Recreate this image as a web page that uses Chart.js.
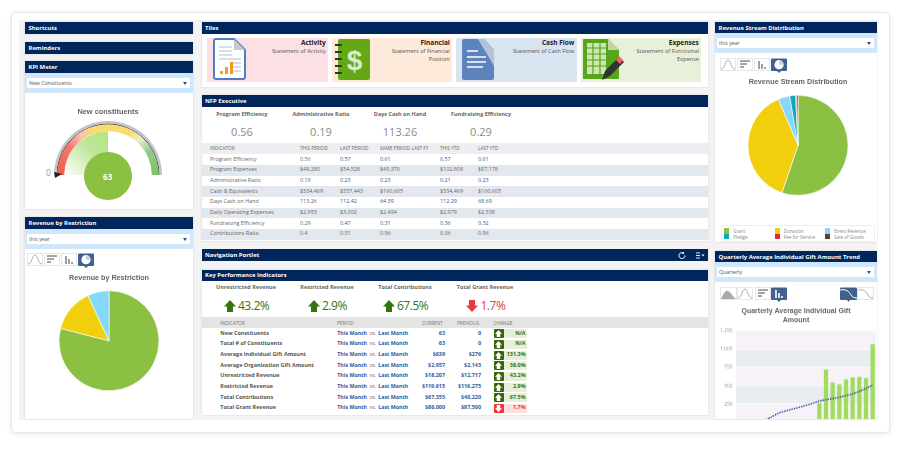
<!DOCTYPE html>
<html>
<head>
<meta charset="utf-8">
<title>Dashboard</title>
<script src="https://cdn.jsdelivr.net/npm/chart.js@4"></script>
<style>
  html, body { margin: 0; padding: 0; background: #fff; }
  #stage { position: relative; width: 907px; height: 454px; overflow: hidden; font-family: "Open Sans", sans-serif; color: #666; }
  #frame { position: absolute; left: 11px; top: 12px; width: 877px; height: 419px; background: #fff; border: 1px solid #e8e8e8; border-radius: 5px; box-shadow: 0 1px 5px rgba(0,0,0,.1); }
  #gutter { position: absolute; left: 19px; top: 20px; width: 858px; height: 400px; background: #f3f3f3; }
  .box { position: absolute; box-sizing: border-box; }
  .panel { background: #fff; box-shadow: 0 0 2px rgba(0,0,0,.14); }
  .head { background: #00265c; color: #fff; font-weight: 700; font-size: 5.9px; padding-left: 3.5px; display: flex; align-items: center; }
  .band { background: #cfe6fb; }
  .select { background: #fff; font-size: 5.2px; color: #555; padding-left: 2px; display: flex; align-items: center; }
  .select::after { content: ''; position: absolute; right: 3px; top: 4px; border: 2.2px solid transparent; border-top: 3px solid #2c5285; }
  .t { position: absolute; white-space: nowrap; line-height: 1; }
  canvas { position: absolute; }
  svg { position: absolute; }
</style>
</head>
<body>
<div id="stage">
  <div id="frame"></div>
  <div id="gutter"></div>
</div>
<script>
const stage = document.getElementById('stage');

const NAVY_TEXT = '#2a5ba0';
const GREEN = '#357410';
const RED = '#e8383a';

const nfpStats = [
  { label: 'Program Efficiency', value: '0.56', x: 242 },
  { label: 'Administrative Ratio', value: '0.19', x: 321 },
  { label: 'Days Cash on Hand', value: '113.26', x: 400 },
  { label: 'Fundraising Efficiency', value: '0.29', x: 481 }
];

const nfpColumns = [
  { label: 'INDICATOR', x: 210 },
  { label: 'THIS PERIOD', x: 300 },
  { label: 'LAST PERIOD', x: 340 },
  { label: 'SAME PERIOD LAST FY', x: 380 },
  { label: 'THIS YTD', x: 440 },
  { label: 'LAST YTD', x: 478 }
];

const nfpRows = [
  ['Program Efficiency', '0.56', '0.57', '0.61', '0.57', '0.61'],
  ['Program Expenses', '$48,280', '$54,528', '$45,370', '$102,808', '$87,178'],
  ['Administrative Ratio', '0.19', '0.23', '0.23', '0.21', '0.23'],
  ['Cash & Equivalents', '$334,469', '$337,443', '$160,605', '$334,469', '$160,605'],
  ['Days Cash on Hand', '113.26', '112.42', '64.39', '112.29', '68.69'],
  ['Daily Operating Expenses', '$2,953', '$3,002', '$2,494', '$2,979', '$2,338'],
  ['Fundraising Efficiency', '0.29', '0.47', '0.31', '0.36', '0.32'],
  ['Contributions Ratio', '0.4', '0.31', '0.96', '0.36', '0.96']
];

const kpiStats = [
  { label: 'Unrestricted Revenue', value: '43.2%', up: true, lx: 246, ax: 229.5, vx: 238 },
  { label: 'Restricted Revenue', value: '2.9%', up: true, lx: 327, ax: 313.5, vx: 322 },
  { label: 'Total Contributions', value: '67.5%', up: true, lx: 405, ax: 389, vx: 397 },
  { label: 'Total Grant Revenue', value: '1.7%', up: false, lx: 485, ax: 472, vx: 480.5 }
];

const kpiRows = [
  ['New Constituents', '63', '0', 'N/A', true],
  ['Total # of Constituents', '63', '0', 'N/A', true],
  ['Average Individual Gift Amount', '$639', '$276', '131.3%', true],
  ['Average Organization Gift Amount', '$2,957', '$2,143', '38.0%', true],
  ['Unrestricted Revenue', '$18,207', '$12,717', '43.2%', true],
  ['Restricted Revenue', '$119,615', '$116,275', '2.9%', true],
  ['Total Contributions', '$67,355', '$40,220', '67.5%', true],
  ['Total Grant Revenue', '$86,000', '$87,500', '1.7%', false]
];

const restriction = { labels: ['Unrestricted', 'Temporarily Restricted', 'Permanently Restricted'], values: [79, 14.1, 6.9], colors: ['#8bc043', '#f2cf0c', '#85d7fb'] };

const streams = {
  labels: ['Grant', 'Donation', 'Event Revenue', 'Pledge', 'Fee for Service', 'Sale of Goods'],
  values: [55.2, 38.4, 3.75, 1.9, 0.3, 0.45],
  colors: ['#8bc043', '#f2cf0c', '#85d7fb', '#12a5bd', '#e0282e', '#5a4038']
};
// legend is laid out by column, not in slice order
const legendOrder = [
  { i: 0, x: 724, y: 231 }, { i: 1, x: 774.5, y: 231 }, { i: 2, x: 825, y: 231 },
  { i: 3, x: 724, y: 236.5 }, { i: 4, x: 774.5, y: 236.5 }, { i: 5, x: 825, y: 236.5 }
];

const quarters = ['Q1','Q2','Q3','Q4','Q5','Q6','Q7','Q8','Q9','Q10','Q11','Q12','Q13','Q14','Q15','Q16','Q17','Q18','Q19','Q20','Q21'];
const giftBars = [null,null,null,null,null,null,null,null,null,null,null,null,262,718,543,518,585,611,620,603,1066];
const giftTrend = [null,null,null,null,40,85,135,160,185,210,235,262,295,312,328,345,368,392,425,465,514];

function box(x, y, w, h, cls, parent) {
  const d = document.createElement('div');
  d.className = 'box ' + (cls || '');
  d.style.left = x + 'px';
  d.style.top = y + 'px';
  d.style.width = w + 'px';
  d.style.height = h + 'px';
  (parent || stage).appendChild(d);
  return d;
}

// y is the vertical middle of the text; align l, c or r around x
function text(x, y, str, size, color, opts) {
  opts = opts || {};
  const s = document.createElement('span');
  s.className = 't';
  s.textContent = str;
  s.style.left = x + 'px';
  s.style.top = y + 'px';
  s.style.fontSize = size + 'px';
  s.style.color = color;
  if (opts.bold) s.style.fontWeight = 700;
  if (opts.spacing) s.style.letterSpacing = opts.spacing + 'px';
  const tx = opts.align === 'r' ? '-100%' : opts.align === 'c' ? '-50%' : '0';
  s.style.transform = `translate(${tx}, -50%)`;
  stage.appendChild(s);
  return s;
}

function header(x, y, w, h, label) {
  box(x, y, w, h, 'head').textContent = label;
}

function selectBar(x, y, w, label) {
  box(x, y, w, 20, 'band');
  box(x + 2, y + 5, w - 5, 10, 'select').textContent = label;
}

function svg(x, y, w, h, inner) {
  const holder = document.createElement('div');
  holder.innerHTML = `<svg xmlns="http://www.w3.org/2000/svg" style="left:${x}px;top:${y}px" width="${w}" height="${h}" viewBox="0 0 ${w} ${h}">${inner}</svg>`;
  stage.appendChild(holder.firstChild);
}

const ICON_BG = '<rect x="0.5" y="0.5" width="15" height="12" fill="#fff" stroke="#e6e6e6"/>';
const iconCurve = ICON_BG + '<path d="M1 11 C5 11 5 2 8 2 C11 2 11 11 15 11" fill="none" stroke="#999" stroke-width=".8"/>';
const iconRows = ICON_BG + '<path d="M3 3h10M3 6h7M3 9h4" stroke="#888" stroke-width="1.4"/>';
const iconCols = ICON_BG + '<path d="M5 11V3M8 11V6M11 11V9" stroke="#888" stroke-width="1.6"/>';
const iconPie = '<path d="M0 1.5a1 1 0 0 1 1-1h14a1 1 0 0 1 1 1V12a1 1 0 0 1-1 1H10L8 15 6 13H1a1 1 0 0 1-1-1z" fill="#43618e"/><circle cx="8" cy="6.7" r="4.6" fill="#fff"/><path d="M8 6.7V2.1A4.6 4.6 0 0 1 12.6 6.7z" fill="#c7d2e2"/>';

function toolbar(x, y) {
  svg(x, y, 16, 16, iconCurve);
  svg(x + 17, y, 16, 16, iconRows);
  svg(x + 34, y, 16, 16, iconCols);
  svg(x + 50.7, y, 16, 16, iconPie);
}

function drawLayout() {
  // left column
  box(25, 22, 168, 11.5, 'panel head').textContent = 'Shortcuts';
  box(25, 41.5, 168, 12, 'panel head').textContent = 'Reminders';
  box(25, 61, 168, 148, 'panel');
  header(25, 61, 168, 12, 'KPI Meter');
  selectBar(25, 73, 168, 'New Constituents');
  text(46, 173, '0', 8.5, '#999');

  box(25, 217, 168, 202, 'panel');
  header(25, 217, 168, 12, 'Revenue by Restriction');
  selectBar(25, 229, 168, 'this year');
  toolbar(27, 253);

  // middle column
  box(201.5, 22, 506, 65, 'panel');
  header(201.5, 22, 506, 11.5, 'Tiles');
  drawTiles();

  box(201.5, 95, 506, 146, 'panel');
  header(201.5, 95, 506, 12, 'NFP Executive');
  nfpStats.forEach(s => {
    text(s.x, 114.5, s.label, 5.5, '#666', { align: 'c', bold: true });
    text(s.x, 131, s.value, 11, '#8a8a8a', { align: 'c' });
  });
  renderNfpTable();

  header(201.5, 249, 506, 12, 'Navigation Portlet');
  svg(677, 251, 30, 9, '<path d="M8 4.5a3 3 0 1 1-1-2.2" fill="none" stroke="#fff" stroke-width="1"/><path d="M7 0.7v2.2h-2.2z" fill="#fff"/><path d="M19 2h4M19 4.5h4M19 7h4" stroke="#fff" stroke-width=".9"/><path d="M24.5 3.5h3l-1.5 2z" fill="#fff"/>');

  box(201.5, 269.5, 506, 145, 'panel');
  header(201.5, 269.5, 506, 11.5, 'Key Performance Indicators');
  renderKpis();

  // right column
  box(715, 22, 162, 220, 'panel');
  header(715, 22, 162, 11.5, 'Revenue Stream Distribution');
  selectBar(715, 33, 162, 'this year');
  toolbar(720, 58);
  renderLegend();

  box(715, 251, 162, 168, 'panel');
  header(715, 251, 162, 11.5, 'Quarterly Average Individual Gift Amount Trend');
  selectBar(715, 262, 162, 'Quarterly');
  svg(720, 287, 17, 13, '<rect x=".5" y=".5" width="16" height="12" fill="#fff" stroke="#e6e6e6"/><path d="M1 12 C4 5 6 3 8 4 C11 5 12 9 16 12z" fill="#aaa"/>');
  svg(737, 287, 17, 13, iconCurve);
  svg(755, 287, 16, 15, iconRows);
  svg(770.5, 287, 16, 16, '<path d="M0 1.5a1 1 0 0 1 1-1h14a1 1 0 0 1 1 1V12a1 1 0 0 1-1 1H10L8 15 6 13H1a1 1 0 0 1-1-1z" fill="#43618e"/><path d="M5 11V3M8 11V6M11 11V9" stroke="#fff" stroke-width="1.6"/>');
  svg(840, 287, 17, 16, '<path d="M0 1.5a1 1 0 0 1 1-1h15a1 1 0 0 1 1 1V12a1 1 0 0 1-1 1H10L8.5 15 7 13H1a1 1 0 0 1-1-1z" fill="#43618e"/><path d="M0 3 C6 2 9 4 11 8 C12 10 14 11 17 11" fill="none" stroke="#fff" stroke-width="1"/>');
  svg(857, 287, 17, 13, '<rect x=".5" y=".5" width="16" height="12" fill="#fff" stroke="#e6e6e6"/><path d="M1 3 C6 2 9 4 11 8 C12 10 14 11 16 11" fill="none" stroke="#aaa" stroke-width="1"/>');
}

function drawTiles() {
  const tiles = [
    { x: 207, w: 121, bg: '#fde0e4', title: 'Activity', sub: ['Statement of Activity'] },
    { x: 332, w: 120, bg: '#fdeadb', title: 'Financial', sub: ['Statement of Financial', 'Position'] },
    { x: 456, w: 120.5, bg: '#d9e4f1', title: 'Cash Flow', sub: ['Statement of Cash Flow'] },
    { x: 581, w: 120, bg: '#e7f1d9', title: 'Expenses', sub: ['Statement of Functional', 'Expense'] }
  ];
  tiles.forEach(t => {
    box(t.x, 37.5, t.w, 44, '').style.background = t.bg;
    const right = t.x + t.w - 2.2;
    text(right, 43, t.title, 6.5, '#222', { align: 'r', bold: true });
    t.sub.forEach((line, i) => text(right, 51.7 + i * 8, line, 5.6, '#555', { align: 'r' }));
  });

  svg(213, 38, 36, 43, '<path d="M3 1h18l11 11v27a2 2 0 0 1-2 2H3a2 2 0 0 1-2-2V3a2 2 0 0 1 2-2z" fill="#fff" stroke="#4f80bd" stroke-width="2"/><path d="M21 1v11h11z" fill="#c9c9c9"/><path d="M6 9h13M6 13h13M6 17h13M6 21h22M20 25h8M20 29h8M20 33h8" stroke="#a9c1de" stroke-width="1.2"/><path d="M7 36v-3h3v3zM12 36v-7h3v7zM17 36V24h3v12z" fill="#f39a23"/>');
  svg(335, 38, 36, 43, '<rect x="3" y="1" width="32" height="41" rx="2" fill="#64a816"/><path d="M0 7h6M0 14h6M0 21h6M0 28h6M0 35h6" stroke="#333" stroke-width="2.2" stroke-linecap="round"/><text x="19.5" y="32" text-anchor="middle" font-family="Liberation Sans" font-weight="700" font-size="28" fill="#d8ecd0">$</text>');
  svg(462, 38, 33, 43, '<path d="M2 1h20l10 11v28a2 2 0 0 1-2 2H2a2 2 0 0 1-2-2V3a2 2 0 0 1 2-2z" fill="#5d83bd"/><path d="M16 1h6l10 11v16z" fill="#b3c3da"/><path d="M5 13h11M5 19h19M5 24h19M5 29h16" stroke="#fff" stroke-width="1.3"/>');
  svg(582, 38, 42, 44, '<path d="M2 1h24l11 11v28a1 1 0 0 1-1 1H2a1 1 0 0 1-1-1V2a1 1 0 0 1 1-1z" fill="#57a51a"/><path d="M5 5h19v31H5z" fill="#cfe5b4"/><path d="M5 10h19M5 16h19M5 22h19M5 28h19M11 5v31M18 5v31" stroke="#57a51a" stroke-width="1.2"/><path d="M26 1l11 11H26z" fill="#bdd99e"/><path d="M20 42l3-9 14-14 5 5-14 14z" fill="#333"/><path d="M34 22l3-4 4 4-3 4z" fill="#f2665a"/>');
}

function renderNfpTable() {
  box(201.5, 142.5, 506, 11, '').style.background = '#eceef1';
  nfpColumns.forEach(c => text(c.x, 148.3, c.label, 4.7, '#666', {}));
  nfpRows.forEach((row, i) => {
    const y = 159.7 + i * 10.67;
    if (i % 2 === 1) box(201.5, y - 5.3, 506, 10.67, '').style.background = '#e3e8ef';
    row.forEach((cell, j) => {
      // last-period and YTD ratios are links, dollar cells are plain
      const link = j >= 2 && !cell.startsWith('$') && i !== 7;
      text(nfpColumns[j].x, y, cell, 5.4, link ? NAVY_TEXT : '#666', {});
    });
  });
}

function arrow(x, y, up, color) {
  const shape = up ? 'M6 0L12 6.5H9V12H3V6.5H0z' : 'M6 12L12 5.5H9V0H3V5.5H0z';
  svg(x - 6, y - 6, 12, 12, `<path d="${shape}" fill="${color}"/>`);
}

function renderKpis() {
  kpiStats.forEach(s => {
    const c = s.up ? GREEN : RED;
    text(s.lx, 288, s.label, 5.5, '#666', { align: 'c', bold: true });
    arrow(s.ax, 305.5, s.up, c);
    text(s.vx, 305.7, s.value, 12, c, { spacing: -0.5 });
  });
  box(201.5, 316.7, 506, 11.5, '').style.background = '#e4e4e4';
  text(220.3, 322.5, 'INDICATOR', 4.7, '#777', {});
  text(337, 322.5, 'PERIOD', 4.7, '#777', {});
  text(442.5, 322.5, 'CURRENT', 4.7, '#777', { align: 'r' });
  text(479, 322.5, 'PREVIOUS', 4.7, '#777', { align: 'r' });
  text(493.5, 322.5, 'CHANGE', 4.7, '#777', {});
  kpiRows.forEach((row, i) => {
    const y = 333.7 + i * 10.67;
    const up = row[4];
    text(220.3, y, row[0], 5.45, '#555', { bold: true });
    text(337.3, y, 'This Month', 5.3, NAVY_TEXT, { bold: true });
    text(369.5, y, 'vs.', 5.3, '#666', {});
    text(378.3, y, 'Last Month', 5.3, NAVY_TEXT, { bold: true });
    text(445, y, row[1], 5.4, NAVY_TEXT, { align: 'r', bold: true });
    text(481, y, row[2], 5.4, NAVY_TEXT, { align: 'r', bold: true });
    const cell = box(493.5, y - 4.5, 33, 9, '');
    cell.style.background = up ? '#e5efda' : '#fde0e0';
    cell.style.borderRadius = '1px';
    const badge = box(493.5, y - 4.5, 10.5, 9, '');
    badge.style.background = up ? '#38660f' : RED;
    badge.style.borderRadius = '1px';
    arrow(498.8, y, up, '#fff');
    stage.lastChild.setAttribute('width', '7');
    stage.lastChild.setAttribute('height', '7');
    stage.lastChild.style.left = '495.3px';
    stage.lastChild.style.top = (y - 3.5) + 'px';
    text(525.5, y, row[3], 5.4, up ? GREEN : RED, { align: 'r', bold: true });
  });
}

function renderLegend() {
  const lg = box(721, 225, 154, 16.5, '');
  lg.style.border = '1px solid #eee';
  lg.style.borderRadius = '2px';
  legendOrder.forEach(item => {
    const sw = box(item.x, item.y - 2.6, 5.4, 5.2, '');
    sw.style.background = streams.colors[item.i];
    text(item.x + 9.3, item.y, streams.labels[item.i], 4.6, '#888', {});
  });
}

function chartCanvas(x, y, w, h, parent) {
  const c = document.createElement('canvas');
  c.style.left = x + 'px';
  c.style.top = y + 'px';
  c.style.width = w + 'px';
  c.style.height = h + 'px';
  c.width = w;
  c.height = h;
  (parent || stage).appendChild(c);
  return c;
}

function titleOpts(str, size, padBottom) {
  return {
    display: true,
    text: str,
    color: '#666',
    font: { family: 'Liberation Sans, Arial', size: size, weight: 'bold', lineHeight: 1.2 },
    padding: { top: 2, bottom: padBottom }
  };
}

function drawPie(canvas, title, data, padBottom) {
  new Chart(canvas, {
    type: 'pie',
    data: {
      labels: data.labels,
      datasets: [{ data: data.values, backgroundColor: data.colors, borderColor: '#fff', borderWidth: 0.6 }]
    },
    options: {
      responsive: false,
      animation: false,
      radius: 50,
      plugins: { legend: { display: false }, tooltip: { enabled: false }, title: titleOpts(title, 7.2, padBottom) }
    }
  });
}

function drawGauge() {
  const value = 63;
  const max = 126;
  const bandColor = c => {
    const a = c.chart.chartArea;
    if (!a) return '#ccc';
    const g = c.chart.ctx.createConicGradient(Math.PI, (a.left + a.right) / 2, a.bottom);
    [[0, '#f55c50'], [0.1, '#f6766a'], [0.155, '#fbc2b2'], [0.195, '#f8dc6e'], [0.32, '#f8dc6e'], [0.365, '#e9efc4'], [0.42, '#8fc98a'], [0.5, '#7fc368']]
      .forEach(s => g.addColorStop(s[0], s[1]));
    return g;
  };
  const fillColor = c => {
    const a = c.chart.chartArea;
    if (!a) return '#ccc';
    const cx = (a.left + a.right) / 2;
    const g = c.chart.ctx.createLinearGradient(cx - 4, a.top + 8, cx - 46, a.bottom - 2);
    g.addColorStop(0, '#b2e77e');
    g.addColorStop(0.4, '#bfe69a');
    g.addColorStop(1, '#ffffff');
    return c.dataIndex === 0 ? g : '#ffffff';
  };
  new Chart(chartCanvas(24.7, 106, 166, 69), {
    type: 'pie',
    data: {
      labels: ['value', 'rest'],
      datasets: [
        { data: [1], backgroundColor: '#c4c4c4', borderWidth: 0, weight: 2.5 },
        { data: [1], backgroundColor: '#222222', borderWidth: 0, weight: 0.7 },
        { data: [1], backgroundColor: bandColor, borderWidth: 0, weight: 7 },
        { data: [value, max - value], backgroundColor: fillColor, borderWidth: 0, weight: 43.8 }
      ]
    },
    options: {
      responsive: false,
      animation: false,
      rotation: -90,
      circumference: 180,
      plugins: { legend: { display: false }, tooltip: { enabled: false }, title: titleOpts('New constituents', 7.4, 4.1) }
    }
  });
  svg(54, 172, 8, 6, '<path d="M0 0L8 2L1 6z" fill="#222"/>');
  const dot = box(83.7, 152, 48, 48, '');
  dot.style.background = '#8bc043';
  dot.style.borderRadius = '50%';
  text(107.7, 176.5, String(value), 8, '#fff', { align: 'c', bold: true });
}

// alternating plot bands behind the bars, taken from the y scale
const stripePlugin = {
  id: 'stripes',
  beforeDatasetsDraw(chart) {
    const { ctx, chartArea: a, scales: { y } } = chart;
    const colors = ['#f7f1f8', '#e9edf0'];
    for (let v = 0, i = 0; v < 1250; v += 250, i++) {
      const top = y.getPixelForValue(v + 250);
      const bottom = y.getPixelForValue(v);
      ctx.fillStyle = colors[i % 2];
      ctx.fillRect(a.left, top, a.right - a.left, bottom - top - 0.8);
    }
  }
};

function drawGiftChart() {
  // the panel cuts off the lower part of the plot
  const clip = box(716, 303, 161, 116, '');
  clip.style.overflow = 'hidden';
  new Chart(chartCanvas(0, 0, 161, 125.6, clip), {
    data: {
      labels: quarters,
      datasets: [
        { type: 'line', data: giftTrend, borderColor: '#2f4f9a', borderWidth: 1.4, borderDash: [1.5, 1], pointRadius: 0, tension: 0, order: 0 },
        { type: 'bar', data: giftBars, backgroundColor: '#a2dc5c', barThickness: 3.6, order: 1 }
      ]
    },
    plugins: [stripePlugin],
    options: {
      responsive: false,
      animation: false,
      layout: { padding: { top: 0, right: 1, bottom: 0, left: 0 } },
      plugins: {
        legend: { display: false },
        tooltip: { enabled: false },
        title: {
          display: true,
          text: ['Quarterly Average Individual Gift', 'Amount'],
          color: '#666',
          font: { family: 'Liberation Sans, Arial', size: 7, weight: 'bold', lineHeight: 1.3 },
          padding: { top: 3.1, bottom: 6.4 }
        }
      },
      scales: {
        x: { display: false, grid: { display: false } },
        y: {
          min: 0,
          max: 1250,
          afterFit(scale) { scale.width = 20; },
          grid: { display: false, drawTicks: false },
          border: { display: false },
          ticks: { stepSize: 250, color: '#999', padding: 3.5, font: { family: 'Open Sans', size: 4.8 }, callback: v => v.toLocaleString('en-US') }
        }
      }
    }
  });
}

drawLayout();
drawGauge();
drawPie(chartCanvas(26, 272, 166, 122), 'Revenue by Restriction', restriction, 5);
drawPie(chartCanvas(715, 76, 166, 123), 'Revenue Stream Distribution', streams, 5);
drawGiftChart();
</script>
</body>
</html>
